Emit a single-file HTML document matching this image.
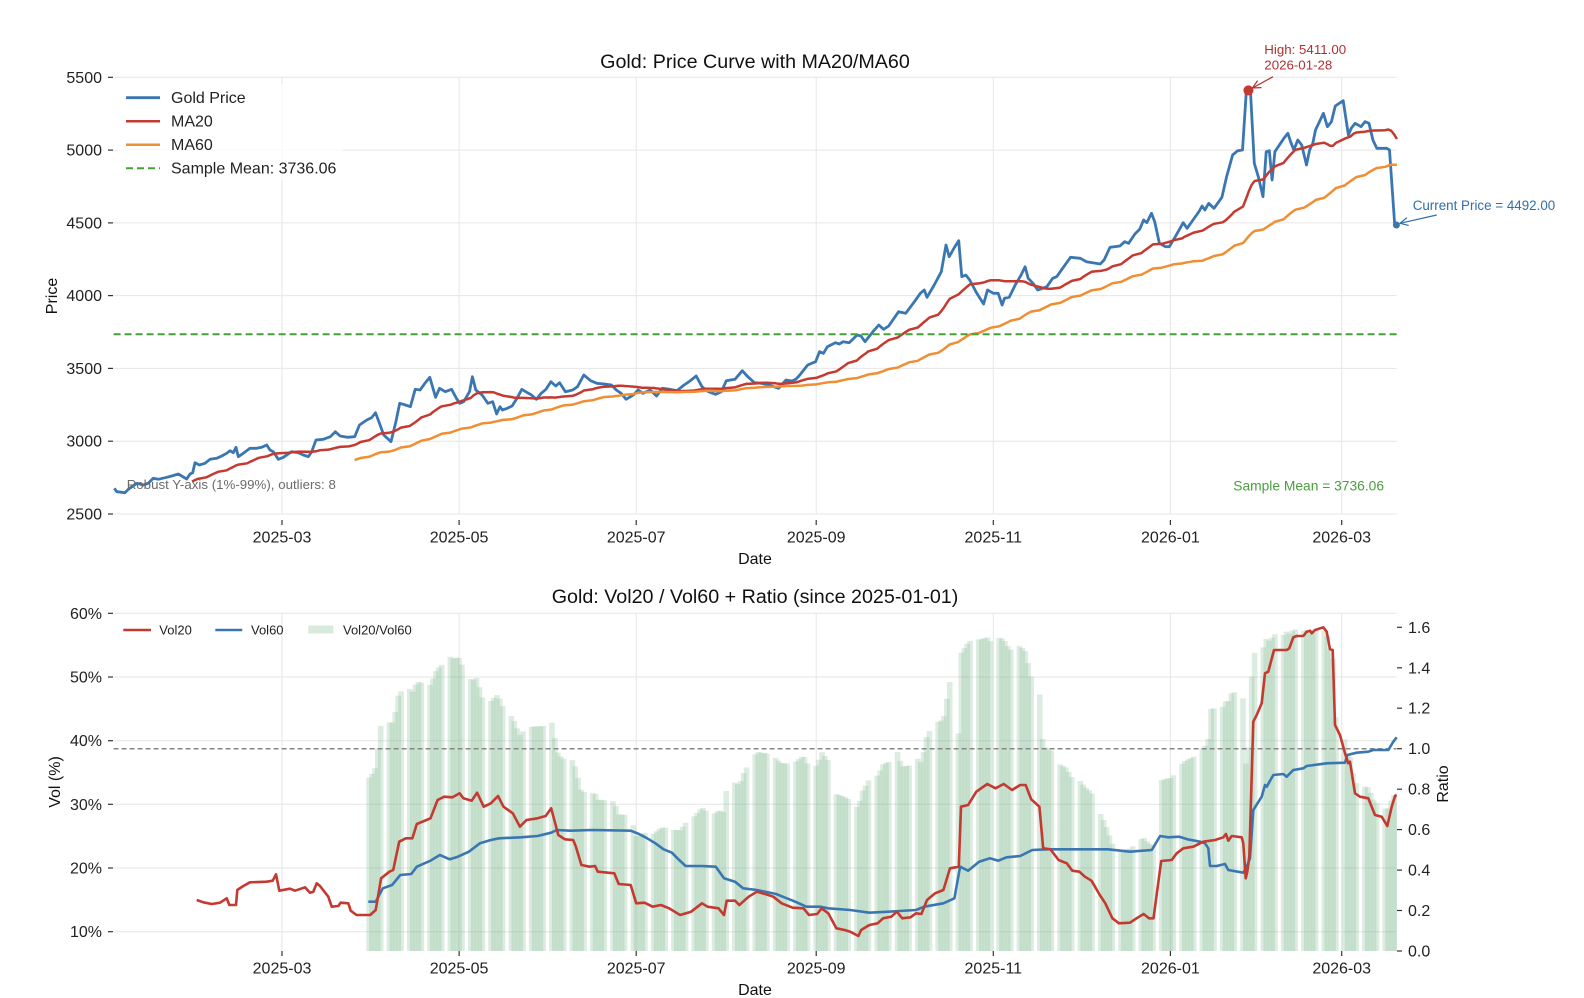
<!DOCTYPE html>
<html><head><meta charset="utf-8"><title>Gold chart</title>
<style>
html,body{margin:0;padding:0;background:#fff;}
svg{display:block;font-family:"Liberation Sans","DejaVu Sans",sans-serif;}
.tk{font-size:16px;fill:#222;}
.ttl{font-size:19.7px;fill:#111;}
.lab{font-size:16px;fill:#111;}
.grid line{stroke:#e6e6e6;stroke-width:1;}
.ticks line{stroke:#333;stroke-width:1.2;}
</style></head>
<body>
<svg id="chart" width="1584" height="998" viewBox="0 0 1584 998" xmlns="http://www.w3.org/2000/svg">
<defs>
<marker id="arR" markerWidth="10" markerHeight="10" refX="9" refY="5" orient="auto" markerUnits="userSpaceOnUse"><path d="M1,1 L9,5 L1,9" fill="none" stroke="#b03030" stroke-width="1.2"/></marker>
<marker id="arB" markerWidth="10" markerHeight="10" refX="9" refY="5" orient="auto" markerUnits="userSpaceOnUse"><path d="M1,1 L9,5 L1,9" fill="none" stroke="#2f6fa8" stroke-width="1.2"/></marker>
</defs>
<rect width="1584" height="998" fill="#fff"/>

<!-- ============ TOP CHART ============ -->
<g class="grid">
<line x1="113.6" y1="77.3" x2="1396.6" y2="77.3"/>
<line x1="113.6" y1="150.1" x2="1396.6" y2="150.1"/>
<line x1="113.6" y1="222.9" x2="1396.6" y2="222.9"/>
<line x1="113.6" y1="295.6" x2="1396.6" y2="295.6"/>
<line x1="113.6" y1="368.4" x2="1396.6" y2="368.4"/>
<line x1="113.6" y1="441.2" x2="1396.6" y2="441.2"/>
<line x1="113.6" y1="514" x2="1396.6" y2="514"/>
<line x1="282" y1="77.3" x2="282" y2="514"/>
<line x1="459.1" y1="77.3" x2="459.1" y2="514"/>
<line x1="636.2" y1="77.3" x2="636.2" y2="514"/>
<line x1="816.2" y1="77.3" x2="816.2" y2="514"/>
<line x1="993.3" y1="77.3" x2="993.3" y2="514"/>
<line x1="1170.4" y1="77.3" x2="1170.4" y2="514"/>
<line x1="1341.7" y1="77.3" x2="1341.7" y2="514"/>
</g>
<g class="ticks">
<line x1="108" y1="77.3" x2="113" y2="77.3"/>
<line x1="108" y1="150.1" x2="113" y2="150.1"/>
<line x1="108" y1="222.9" x2="113" y2="222.9"/>
<line x1="108" y1="295.6" x2="113" y2="295.6"/>
<line x1="108" y1="368.4" x2="113" y2="368.4"/>
<line x1="108" y1="441.2" x2="113" y2="441.2"/>
<line x1="108" y1="514" x2="113" y2="514"/>
<line x1="282" y1="520" x2="282" y2="525"/>
<line x1="459.1" y1="520" x2="459.1" y2="525"/>
<line x1="636.2" y1="520" x2="636.2" y2="525"/>
<line x1="816.2" y1="520" x2="816.2" y2="525"/>
<line x1="993.3" y1="520" x2="993.3" y2="525"/>
<line x1="1170.4" y1="520" x2="1170.4" y2="525"/>
<line x1="1341.7" y1="520" x2="1341.7" y2="525"/>
</g>
<g class="tk" text-anchor="end">
<text x="102" y="82.8">5500</text>
<text x="102" y="155.6">5000</text>
<text x="102" y="228.4">4500</text>
<text x="102" y="301.1">4000</text>
<text x="102" y="373.9">3500</text>
<text x="102" y="446.7">3000</text>
<text x="102" y="519.5">2500</text>
</g>
<g class="tk" text-anchor="middle">
<text x="282" y="542.5">2025-03</text>
<text x="459.1" y="542.5">2025-05</text>
<text x="636.2" y="542.5">2025-07</text>
<text x="816.2" y="542.5">2025-09</text>
<text x="993.3" y="542.5">2025-11</text>
<text x="1170.4" y="542.5">2026-01</text>
<text x="1341.7" y="542.5">2026-03</text>
</g>
<text class="ttl" x="755" y="68" text-anchor="middle">Gold: Price Curve with MA20/MA60</text>
<text class="lab" x="755" y="564" text-anchor="middle">Date</text>
<text class="lab" x="0" y="0" text-anchor="middle" transform="translate(57,296) rotate(-90)">Price</text>

<path id="price" fill="none" stroke="#3a77b2" stroke-width="2.8" stroke-linejoin="round"/>
<path id="ma20" fill="none" stroke="#c43a30" stroke-width="2.5" stroke-linejoin="round"/>
<path id="ma60" fill="none" stroke="#ef8e32" stroke-width="2.5" stroke-linejoin="round"/>
<line x1="113.6" y1="334.2" x2="1396.6" y2="334.2" stroke="#45a03a" stroke-width="2" stroke-dasharray="7,4"/>

<circle cx="1248.4" cy="90.4" r="5" fill="#c43a30"/>
<circle cx="1396.4" cy="225" r="3.5" fill="#3a77b2"/>
<line x1="1273" y1="76.7" x2="1252.5" y2="88" stroke="#b03030" stroke-width="1.2" marker-end="url(#arR)"/>
<line x1="1436.7" y1="215" x2="1400" y2="223.3" stroke="#2f6fa8" stroke-width="1.2" marker-end="url(#arB)"/>
<text x="1264.3" y="54" font-size="13.3" fill="#b03030">High: 5411.00</text>
<text x="1264.3" y="69.5" font-size="13.3" fill="#b03030">2026-01-28</text>
<text x="1412.7" y="210" font-size="13.4" fill="#2f6fa8">Current Price = 4492.00</text>
<text x="126.7" y="489" font-size="13.3" fill="#6b6b6b">Robust Y-axis (1%-99%), outliers: 8</text>
<text x="1384" y="490.5" font-size="13.8" fill="#4a9e3f" text-anchor="end">Sample Mean = 3736.06</text>

<!-- legend top -->
<rect x="118" y="84" width="225" height="96" fill="#fff" fill-opacity="0.8"/>
<line x1="126" y1="97.7" x2="160" y2="97.7" stroke="#3a77b2" stroke-width="2.8"/>
<line x1="126" y1="121.2" x2="160" y2="121.2" stroke="#c43a30" stroke-width="2.5"/>
<line x1="126" y1="144.7" x2="160" y2="144.7" stroke="#ef8e32" stroke-width="2.5"/>
<line x1="126" y1="168.2" x2="160" y2="168.2" stroke="#45a03a" stroke-width="2" stroke-dasharray="7,4"/>
<g class="tk">
<text x="171" y="103.2">Gold Price</text>
<text x="171" y="126.7">MA20</text>
<text x="171" y="150.2">MA60</text>
<text x="171" y="173.7">Sample Mean: 3736.06</text>
</g>

<!-- ============ BOTTOM CHART ============ -->
<g class="grid">
<line x1="113.6" y1="613.3" x2="1396.6" y2="613.3"/>
<line x1="113.6" y1="677" x2="1396.6" y2="677"/>
<line x1="113.6" y1="740.7" x2="1396.6" y2="740.7"/>
<line x1="113.6" y1="804.3" x2="1396.6" y2="804.3"/>
<line x1="113.6" y1="868" x2="1396.6" y2="868"/>
<line x1="113.6" y1="931.7" x2="1396.6" y2="931.7"/>
<line x1="282" y1="613.3" x2="282" y2="951"/>
<line x1="459.1" y1="613.3" x2="459.1" y2="951"/>
<line x1="636.2" y1="613.3" x2="636.2" y2="951"/>
<line x1="816.2" y1="613.3" x2="816.2" y2="951"/>
<line x1="993.3" y1="613.3" x2="993.3" y2="951"/>
<line x1="1170.4" y1="613.3" x2="1170.4" y2="951"/>
<line x1="1341.7" y1="613.3" x2="1341.7" y2="951"/>
</g>
<g id="bars"></g>
<line x1="113.6" y1="748.7" x2="1396.6" y2="748.7" stroke="#888" stroke-width="1.5" stroke-dasharray="5,3"/>
<path id="vol60" fill="none" stroke="#3a77b2" stroke-width="2.6" stroke-linejoin="round"/>
<path id="vol20" fill="none" stroke="#c43a30" stroke-width="2.6" stroke-linejoin="round"/>

<g class="ticks">
<line x1="108" y1="613.3" x2="113" y2="613.3"/>
<line x1="108" y1="677" x2="113" y2="677"/>
<line x1="108" y1="740.7" x2="113" y2="740.7"/>
<line x1="108" y1="804.3" x2="113" y2="804.3"/>
<line x1="108" y1="868" x2="113" y2="868"/>
<line x1="108" y1="931.7" x2="113" y2="931.7"/>
<line x1="1397" y1="951" x2="1402" y2="951"/>
<line x1="1397" y1="910.5" x2="1402" y2="910.5"/>
<line x1="1397" y1="870.1" x2="1402" y2="870.1"/>
<line x1="1397" y1="829.6" x2="1402" y2="829.6"/>
<line x1="1397" y1="789.2" x2="1402" y2="789.2"/>
<line x1="1397" y1="748.7" x2="1402" y2="748.7"/>
<line x1="1397" y1="708.2" x2="1402" y2="708.2"/>
<line x1="1397" y1="667.8" x2="1402" y2="667.8"/>
<line x1="1397" y1="627.3" x2="1402" y2="627.3"/>
<line x1="282" y1="951" x2="282" y2="956"/>
<line x1="459.1" y1="951" x2="459.1" y2="956"/>
<line x1="636.2" y1="951" x2="636.2" y2="956"/>
<line x1="816.2" y1="951" x2="816.2" y2="956"/>
<line x1="993.3" y1="951" x2="993.3" y2="956"/>
<line x1="1170.4" y1="951" x2="1170.4" y2="956"/>
<line x1="1341.7" y1="951" x2="1341.7" y2="956"/>
</g>
<g class="tk" text-anchor="end">
<text x="102" y="618.8">60%</text>
<text x="102" y="682.5">50%</text>
<text x="102" y="746.2">40%</text>
<text x="102" y="809.8">30%</text>
<text x="102" y="873.5">20%</text>
<text x="102" y="937.2">10%</text>
</g>
<g class="tk">
<text x="1408" y="956.5">0.0</text>
<text x="1408" y="916">0.2</text>
<text x="1408" y="875.6">0.4</text>
<text x="1408" y="835.1">0.6</text>
<text x="1408" y="794.7">0.8</text>
<text x="1408" y="754.2">1.0</text>
<text x="1408" y="713.7">1.2</text>
<text x="1408" y="673.3">1.4</text>
<text x="1408" y="632.8">1.6</text>
</g>
<g class="tk" text-anchor="middle">
<text x="282" y="973.5">2025-03</text>
<text x="459.1" y="973.5">2025-05</text>
<text x="636.2" y="973.5">2025-07</text>
<text x="816.2" y="973.5">2025-09</text>
<text x="993.3" y="973.5">2025-11</text>
<text x="1170.4" y="973.5">2026-01</text>
<text x="1341.7" y="973.5">2026-03</text>
</g>
<text class="ttl" x="755" y="603" text-anchor="middle">Gold: Vol20 / Vol60 + Ratio (since 2025-01-01)</text>
<text class="lab" x="755" y="995" text-anchor="middle">Date</text>
<text class="lab" x="0" y="0" text-anchor="middle" transform="translate(60,782) rotate(-90)">Vol (%)</text>
<text class="lab" x="0" y="0" text-anchor="middle" transform="translate(1448,784) rotate(-90)">Ratio</text>

<!-- legend bottom -->
<line x1="123.3" y1="630" x2="151" y2="630" stroke="#c43a30" stroke-width="2.6"/>
<line x1="215.3" y1="630" x2="242.3" y2="630" stroke="#3a77b2" stroke-width="2.6"/>
<rect x="308.3" y="625.5" width="25" height="8" fill="#d8eadc"/>
<g font-size="13" fill="#222">
<text x="159.3" y="634.6">Vol20</text>
<text x="251" y="634.6">Vol60</text>
<text x="343" y="634.6">Vol20/Vol60</text>
</g>
</svg>

<script>
(function(){
var P=[[114.3,488.3],[116.7,491.7],[125,492.7],[128.3,489.3],[136.7,483.3],[143.3,485],[148.3,483.3],[153.3,478.3],[158.3,479.3],[166.7,477.3],[171.7,476],[175,475],[178.3,474],[181.7,476],[186.7,479],[190,474],[192.7,472.7],[195,462.7],[199.3,465],[205,463.3],[210,459.3],[216.7,458.3],[221.7,456],[226.7,453.3],[230,450.7],[233.3,452.7],[236,447.3],[238.3,456.7],[243.3,453.3],[250,448.3],[256.7,448.3],[261.7,447.3],[266.7,445],[270,450],[273.3,451.7],[278.3,459.3],[283.3,457.3],[291.7,451.7],[298.3,452.7],[303.3,455],[308.3,456.7],[311.7,451.7],[316,440],[323.2,439.3],[330.4,436.7],[335.3,431.7],[340.1,436],[347.4,437.3],[354.7,436.7],[359.5,425],[366.8,420],[371.6,417.7],[375.5,412.7],[378.9,421.7],[383.7,435],[391,441.7],[395.9,421.7],[399.7,403.3],[405.5,405],[410.4,406.7],[415.2,389.3],[420.1,390],[424.9,383.3],[429.8,377.3],[435.6,397.3],[439.5,388.3],[445.3,391.7],[451.6,389.3],[456.4,398.3],[459.8,403.3],[463.7,401.7],[469.5,391.7],[472.4,376.7],[475.8,390],[482.1,395],[487.9,403.3],[492.7,401.7],[496.6,414],[500,406.7],[502.4,410],[507.3,408.3],[512.1,406],[517,398.3],[521.8,389.3],[525.7,391.7],[531.5,395],[536.4,399.3],[541.2,393.3],[546,389.3],[550.9,381.7],[555.7,386],[559.6,382.7],[565.4,391.7],[572.7,390],[577.5,386.7],[583.8,375],[590.6,380.7],[596.9,383.3],[604.2,384],[611.5,385],[616.3,390],[621.1,393.3],[626,399.3],[633.3,395],[638.1,390],[643,393.3],[650.2,390],[656.5,396],[662.3,388.3],[669.6,389.3],[676.8,390.7],[684.1,385],[689,381.7],[696.2,376],[702,386.7],[708.3,391.7],[715.6,394.3],[721.4,391.7],[726.3,380.7],[735,379.3],[742.3,370.7],[747.1,376],[754.4,382.7],[761.6,383.3],[768.9,385],[778.6,388.3],[785.9,380],[791.9,381],[795.8,379.3],[799.8,375],[803.7,370],[807.7,365],[815.6,361.7],[819.5,351.7],[823.5,353.3],[827.4,346.7],[835.3,342.7],[839.3,344],[843.2,341.7],[849.2,342.7],[857.1,335],[861,336],[865,341.7],[872.9,331.7],[878.8,325],[883.6,329.3],[888.7,326],[898.6,311.7],[905.7,313.3],[914.4,301.7],[920.3,293.3],[924.3,290],[927,297.3],[934.2,285],[941.3,271.7],[946,245],[949.2,256.7],[953.9,248.3],[958.7,240.7],[961.8,276.7],[965.8,275],[969.7,280],[976.8,293.3],[983.6,304],[987.5,290],[993.4,293.3],[998.2,293.3],[1002.1,305],[1004.5,298.3],[1009.2,297.3],[1015.2,285],[1021.1,275],[1025.1,266.7],[1028.2,278.3],[1033,283.3],[1037.7,290],[1042.8,288.3],[1046.8,286.7],[1052.7,278.3],[1056.7,276.7],[1063.8,266.7],[1070.5,257.3],[1080.4,258.3],[1086.3,261.7],[1100.2,264],[1104.1,260],[1110,247.3],[1119.9,246],[1124.7,241.7],[1128.6,243.3],[1134.9,234],[1139.7,229.3],[1143.6,220],[1146.8,222.7],[1151.5,213.3],[1154.7,221.7],[1159.4,243.3],[1165.4,246.7],[1169.3,246.7],[1175.3,236.7],[1183.2,222.7],[1187.1,228.3],[1193,220],[1198.9,211.7],[1202.1,206],[1204.9,210],[1208.7,203.3],[1214,208.3],[1221.9,197.3],[1226.6,176.7],[1232.6,155],[1237.7,150.7],[1242.5,150],[1246.4,90],[1250.4,90],[1254.3,163.3],[1258.3,176.7],[1263,196.7],[1266.2,151.7],[1269.3,150.7],[1272.1,180],[1274.9,151.7],[1283.9,138.3],[1287.9,133.3],[1290.6,141.7],[1293.8,150],[1297.8,140],[1301.7,145],[1306.5,165],[1309.6,150],[1312.8,143.3],[1315.5,130],[1323.4,113.3],[1327.4,126.7],[1331.4,121.7],[1335.3,106],[1343.2,100.7],[1348.4,135],[1351.2,128.3],[1355.1,123.3],[1361.1,126.7],[1365,121.7],[1369,123.3],[1372.9,140],[1376.8,148.3],[1386.7,148.3],[1389.5,150],[1394.6,223.3],[1396.6,226]];
var V20=[[196.7,900],[203.3,902.3],[211.7,904],[220,902.7],[226.7,898.3],[229.3,905],[236,905],[237.3,890],[243.3,886],[250,882.3],[266.7,881.7],[272.7,880.7],[276,874.3],[279.3,890.7],[290,888.7],[295,890.7],[305,887.3],[310,892.7],[313.3,891.7],[316.7,883.3],[320,886],[328.3,896.7],[331.7,906.7],[338.3,906],[340.7,902.7],[348.3,903.3],[350.7,910.7],[356.5,915],[370.2,915],[375.7,910],[381.1,878.3],[389.4,871.7],[393.2,870],[399.2,841.7],[405.8,838.3],[412.4,838.3],[416.8,824],[430.5,818.3],[437.6,800],[444.2,796.7],[452.5,797.3],[459.6,793.3],[463.4,798.3],[471.7,800.7],[477.1,792.7],[483.7,806.7],[490.9,803.3],[498,796],[503.5,806.7],[512.8,813.3],[519.9,826.7],[526.5,820],[537.5,818.3],[545.7,816],[551.2,808.3],[558.3,835],[564.9,839.3],[573.2,840],[575.9,846.7],[581.4,865],[589.6,866.7],[595.1,866],[597.8,871.7],[614.3,873.3],[618.7,884],[630.7,885],[636.2,903.3],[644.5,902.7],[652.7,906.7],[660.9,905],[669.1,908.3],[680.1,915],[691.1,911.7],[702,903.3],[707.5,906.7],[718.5,908.3],[724,915],[726.7,900.7],[735,900.7],[739.3,905],[748.7,896.7],[756.9,891.7],[765.1,894],[773.3,896.7],[781.6,903.3],[792.6,907.7],[803.5,908.3],[809,915],[817.2,914],[821.6,908.3],[828.2,913.3],[836.4,928.3],[844.7,930],[850.2,931.7],[858.4,936],[861.1,930],[869.4,925],[877.6,923.3],[883.1,918.3],[891.3,916.7],[896.8,911.7],[902.3,918.3],[910.5,917.3],[916,913.3],[921.4,914],[927,900],[935.1,893.3],[943.4,890],[950,868.3],[958.8,866.7],[961,806.7],[968.1,805],[976.3,791.7],[987.3,784],[995.5,788.3],[1003.7,784],[1012,790],[1020.2,785],[1025.7,785],[1031.2,799.3],[1039.4,806.7],[1043.2,848.3],[1050.4,849.3],[1058.6,860],[1066.8,863.3],[1072.3,870.7],[1079.4,871.7],[1084.9,876.7],[1091.5,880.7],[1099.8,895],[1105.3,903.3],[1112.4,918.3],[1119,923.3],[1130,922.7],[1136.5,918.3],[1143.6,914],[1149.1,918.3],[1153.5,918.3],[1161.2,861],[1171.7,860],[1176.7,853.3],[1183.3,848.3],[1193.3,846.7],[1203.3,841.7],[1215,840],[1223.3,837.3],[1226,834],[1228.3,840.7],[1231.7,836],[1241.7,837.3],[1243.3,843.3],[1245.7,878.3],[1247.3,871.7],[1249.3,856.7],[1253.3,721.7],[1256.7,715],[1261.7,703.3],[1265,673.3],[1268.3,671.7],[1274,650],[1286.7,650],[1289.3,648.3],[1293.3,637.3],[1296.7,636],[1303.3,636],[1306.7,631.7],[1310,630.7],[1311.7,633.3],[1315,630],[1323.3,627.3],[1326.7,631.7],[1330,649.3],[1332.7,650],[1335,725],[1340,735],[1345,753.3],[1348.3,763.3],[1350,761.7],[1355,793.3],[1360,796.7],[1368.3,798.3],[1375,815],[1381.7,816.7],[1387.3,826],[1391.7,806.7],[1395,796],[1396.7,795]];
var V60=[[368.3,901.7],[375.7,901.7],[382.8,888.3],[392.1,885],[400.3,875],[411.3,874],[416.8,866.7],[430.5,860.7],[439.8,855],[449.7,859.3],[457.9,856.7],[468.9,851.7],[479.9,843.3],[490.9,840],[499.1,838.3],[521,837.3],[537.5,836],[551.2,832.7],[556.7,830],[570.4,830.7],[592.3,830],[630.7,830.7],[639,834],[647.2,838.3],[655.4,843.3],[663.6,849.3],[671.9,852.7],[677.4,858.3],[685.6,866],[702,866],[715.8,866.7],[724,878.3],[735,881.7],[743.2,888.3],[756.9,890],[776.1,894],[784.3,897.3],[795.3,901.7],[806.3,906.7],[820,906.7],[828.2,908.3],[850.2,910],[869.4,912.7],[888.5,911.7],[899.5,911],[916,910],[924.2,906.7],[943.4,903.3],[954.4,898.3],[960.1,866.7],[968.1,870.7],[979.1,861.7],[990,858.3],[998.3,860.7],[1006.5,857.3],[1020.2,856],[1032.3,850],[1047.6,849.3],[1069.6,849.3],[1108,849.3],[1130,851.7],[1151.8,850],[1160.1,836],[1168.3,837.3],[1179.3,836.7],[1187.5,839.3],[1200.1,841.7],[1205,843.3],[1208.3,848.3],[1210,866],[1216.7,866],[1225,864],[1228.3,870],[1243.3,872.7],[1246.7,866.7],[1250,858.3],[1253.3,810],[1261.7,796.7],[1265,785],[1266.7,786.7],[1273.3,775],[1283.3,774],[1286.7,776.7],[1293.3,770],[1303.3,768.3],[1306.7,766],[1326.7,763.3],[1345,762.7],[1347.3,755],[1356.7,752.7],[1368.3,751.7],[1373.3,750],[1388.3,750],[1393.3,741.7],[1396.7,737.3]];
function interp(p,x){if(x<=p[0][0])return p[0][1];for(var i=1;i<p.length;i++){if(x<=p[i][0]){var a=p[i-1],b=p[i];return a[1]+(b[1]-a[1])*(x-a[0])/(b[0]-a[0]);}}return p[p.length-1][1];}
function path(p){return 'M'+p.map(function(q){return q[0].toFixed(1)+','+q[1].toFixed(1);}).join('L');}
var days=[],ref=Date.UTC(2025,2,1),t=Date.UTC(2025,0,2),end=Date.UTC(2026,2,20);
for(;t<=end;t+=86400000){var w=new Date(t).getUTCDay();if(w>0&&w<6)days.push(282+(t-ref)/86400000*2.9033);}
var py=days.map(function(x){return interp(P,x);});
function ma(n){var o=[];for(var i=n-1;i<py.length;i++){var s=0;for(var j=i-n+1;j<=i;j++)s+=py[j];o.push([days[i],s/n]);}return o;}
document.getElementById('price').setAttribute('d',path(P));
document.getElementById('ma20').setAttribute('d',path(ma(20)));
document.getElementById('ma60').setAttribute('d',path(ma(60)));
document.getElementById('vol20').setAttribute('d',path(V20));
document.getElementById('vol60').setAttribute('d',path(V60));
var g=document.getElementById('bars'),NS='http://www.w3.org/2000/svg';
function val(y){return 10+(931.7-y)/6.368;}
days.forEach(function(x){
 if(x<367||x>1397)return;
 var r=val(interp(V20,x))/val(interp(V60,x));
 var top=951-r*202.3;
 var rc=document.createElementNS(NS,'rect');
 var x0=Math.max(x-2.8,113.6),x1=Math.min(x+2.8,1396.8);
 rc.setAttribute('x',x0.toFixed(2));rc.setAttribute('y',top.toFixed(2));
 rc.setAttribute('width',(x1-x0).toFixed(2));rc.setAttribute('height',(951-top).toFixed(2));
 rc.setAttribute('fill','rgb(120,180,135)');rc.setAttribute('fill-opacity','0.25');
 g.appendChild(rc);
});
})();
</script>
</body></html>
